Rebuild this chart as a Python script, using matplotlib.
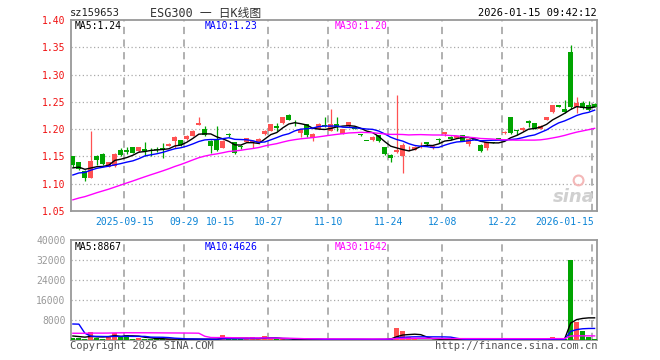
import numpy as np
import pandas as pd
import matplotlib
matplotlib.use('Agg')
import matplotlib.pyplot as plt
import matplotlib.transforms as mtransforms

plt.rcParams['font.family'] = ['DejaVu Sans Mono', 'Noto Sans CJK SC']

# daily bars 2025-09 .. 2026-01-15
opens = [1.150, 1.139, 1.123, 1.111, 1.151, 1.154, 1.131, 1.132, 1.162, 1.162, 1.167, 1.160,
         1.164, 1.164, 1.164, 1.166, 1.170, 1.179, 1.180, 1.182, 1.188, 1.208, 1.200, 1.178,
         1.180, 1.166, 1.191, 1.176, 1.169, 1.177, 1.176, 1.174, 1.191, 1.197, 1.206, 1.211,
         1.226, 1.210, 1.193, 1.209, 1.183, 1.201, 1.208, 1.197, 1.209, 1.192, 1.205, 1.204,
         1.191, 1.179, 1.180, 1.189, 1.167, 1.153, 1.158, 1.151, 1.165, 1.162, 1.174, 1.176,
         1.165, 1.182, 1.191, 1.186, 1.184, 1.189, 1.173, 1.182, 1.171, 1.165, 1.176, 1.183,
         1.193, 1.222, 1.198, 1.198, 1.215, 1.211, 1.201, 1.217, 1.232, 1.244, 1.236, 1.341,
         1.241, 1.248, 1.244, 1.246]
highs = [1.151, 1.140, 1.126, 1.197, 1.152, 1.156, 1.140, 1.156, 1.166, 1.168, 1.168, 1.168,
         1.176, 1.166, 1.168, 1.175, 1.174, 1.188, 1.181, 1.190, 1.198, 1.222, 1.206, 1.180,
         1.206, 1.180, 1.193, 1.177, 1.171, 1.184, 1.180, 1.183, 1.198, 1.210, 1.211, 1.223,
         1.227, 1.217, 1.201, 1.210, 1.193, 1.212, 1.223, 1.237, 1.222, 1.201, 1.214, 1.205,
         1.192, 1.179, 1.187, 1.190, 1.168, 1.154, 1.262, 1.175, 1.170, 1.169, 1.176, 1.177,
         1.170, 1.183, 1.195, 1.187, 1.188, 1.190, 1.183, 1.183, 1.172, 1.177, 1.177, 1.184,
         1.196, 1.223, 1.198, 1.204, 1.216, 1.212, 1.207, 1.223, 1.245, 1.245, 1.253, 1.354,
         1.258, 1.251, 1.252, 1.247]
lows = [1.131, 1.125, 1.105, 1.110, 1.134, 1.135, 1.130, 1.131, 1.150, 1.155, 1.156, 1.159,
        1.150, 1.150, 1.158, 1.148, 1.169, 1.166, 1.170, 1.181, 1.187, 1.207, 1.188, 1.157,
        1.160, 1.165, 1.185, 1.155, 1.163, 1.176, 1.165, 1.173, 1.189, 1.196, 1.197, 1.210,
        1.216, 1.205, 1.186, 1.186, 1.178, 1.200, 1.204, 1.196, 1.196, 1.191, 1.204, 1.200,
        1.188, 1.178, 1.179, 1.176, 1.153, 1.139, 1.157, 1.120, 1.160, 1.161, 1.165, 1.170,
        1.164, 1.175, 1.188, 1.181, 1.183, 1.178, 1.170, 1.180, 1.159, 1.162, 1.175, 1.182,
        1.191, 1.192, 1.190, 1.197, 1.204, 1.200, 1.200, 1.216, 1.230, 1.240, 1.230, 1.237,
        1.229, 1.236, 1.234, 1.240]
closes = [1.134, 1.127, 1.110, 1.142, 1.143, 1.136, 1.139, 1.154, 1.153, 1.158, 1.157, 1.167,
          1.160, 1.163, 1.162, 1.162, 1.173, 1.186, 1.171, 1.188, 1.197, 1.212, 1.189, 1.170,
          1.161, 1.179, 1.189, 1.157, 1.168, 1.183, 1.179, 1.182, 1.197, 1.209, 1.202, 1.222,
          1.217, 1.209, 1.200, 1.190, 1.192, 1.209, 1.206, 1.209, 1.204, 1.200, 1.213, 1.201,
          1.190, 1.178, 1.186, 1.178, 1.154, 1.148, 1.162, 1.171, 1.166, 1.168, 1.175, 1.172,
          1.169, 1.181, 1.194, 1.182, 1.187, 1.179, 1.182, 1.181, 1.160, 1.176, 1.175, 1.182,
          1.195, 1.193, 1.197, 1.203, 1.212, 1.201, 1.206, 1.222, 1.244, 1.241, 1.232, 1.241,
          1.248, 1.238, 1.235, 1.241]
volumes = [800, 900, 600, 3300, 700, 600, 1600, 2700, 1500, 2000, 500, 1000,
           500, 400, 300, 400, 300, 400, 300, 300, 400, 300, 300, 300, 400,
           2000, 500, 400, 400, 500, 1300, 400, 1600,
           300, 250, 300, 200, 250, 200, 300, 250, 200, 200, 300, 200, 250, 200, 200, 200,
           150, 200, 300, 250,
           1000, 4800, 3600, 1200, 1000,
           120, 180, 150, 150, 140, 160, 150, 150, 130, 170, 150, 150, 140, 160, 150, 150,
           150, 150, 140, 160,
           150, 150, 1200, 150, 275,
           32000, 7200, 3500, 1300, 335]

# bars before the window, only feed the moving averages
prior_closes = [1.030, 1.032, 1.035, 1.033, 1.038, 1.040, 1.042, 1.040, 1.045, 1.048,
                1.050, 1.047, 1.052, 1.055, 1.053, 1.058, 1.060, 1.062, 1.065, 1.070,
                1.090, 1.100, 1.100, 1.110, 1.115, 1.120, 1.130, 1.130, 1.131]
prior_volumes = [1200, 900, 700, 800, 1000, 600, 900, 700, 800, 1100,
                 900, 700, 600, 800, 1000, 900, 700, 800, 1000, 900,
                 1500, 37000, 15000, 1500, 1000, 2000, 1800, 1700, 1700]

tick_pos = [9, 19, 25, 33, 43, 53, 62, 72, 87]
tick_labels = ['2025-09-15', '09-29', '10-15', '10-27', '11-10', '11-24',
               '12-08', '12-22', '2026-01-15']
grid_pos = [9, 19, 33, 43, 53, 62, 72, 87]

RED = '#ff5252'
GREEN = '#00a400'
MA_COLORS = {5: '#000000', 10: '#0000ff', 30: '#ff00ff'}
GRID = '#aaaaaa'
FRAME = '#999999'

def moving_averages(prior, values):
    s = pd.Series(list(prior) + list(values), dtype=float)
    return {n: s.rolling(n).mean().iloc[len(prior):].to_numpy() for n in (5, 10, 30)}

x = np.arange(len(closes))
o, h, l, c = map(np.array, (opens, highs, lows, closes))
up = c >= o
colors = np.where(up, RED, GREEN)
price_ma = moving_averages(prior_closes, closes)
vol_ma = moving_averages(prior_volumes, volumes)

fig = plt.figure(figsize=(6.6, 3.6), dpi=100)
ax = fig.add_axes([70.5 / 660, 1 - 211 / 360, 526.5 / 660, 191 / 360])
axv = fig.add_axes([70.5 / 660, 1 - 340 / 360, 526.5 / 660, 100 / 360])


def frame(a):
    for sp in a.spines.values():
        sp.set_color(FRAME)
        sp.set_linewidth(1.3)
    a.tick_params(length=0, labelsize=7)
    a.set_xlim(-0.4, 87.4)
    a.set_xticks([])
    for p in grid_pos:
        a.axvline(p - 0.4, color=GRID, lw=1.3, ls=(0, (4, 3)), zorder=0)


# price panel
frame(ax)
ax.set_ylim(1.05, 1.40)
yt = np.round(np.arange(1.05, 1.401, 0.05), 2)
ax.set_yticks(yt)
ax.set_yticklabels([f'{v:.2f}' for v in yt], color='#f01010')
for v in yt[1:-1]:
    ax.axhline(v, color=GRID, lw=0.9, ls=(0, (1, 2)), zorder=0)

ax.vlines(x, l, h, colors=colors, lw=0.9, zorder=2)
body = np.maximum(np.abs(c - o), 0.0012)
ax.bar(x, body, bottom=np.minimum(o, c), width=0.8, color=colors, lw=0, zorder=3)
for n, col in MA_COLORS.items():
    ax.plot(x, price_ma[n], color=col, lw=1.0, zorder=4)

trans = mtransforms.blended_transform_factory(ax.transData, ax.transAxes)
for p, lab in zip(tick_pos, tick_labels):
    ha = 'right' if p == tick_pos[-1] else 'center'
    ax.text(p - 0.4 + (0.3 if ha == 'right' else 0), -0.055, lab, transform=trans,
            ha=ha, va='center', fontsize=7, color='#0b84d6')

ax.text(4.5 / 526.5, 0.967, f'MA5:{price_ma[5][-1]:.2f}', transform=ax.transAxes,
        fontsize=7, color=MA_COLORS[5], va='center')
ax.text(134.5 / 526.5, 0.967, f'MA10:{price_ma[10][-1]:.2f}', transform=ax.transAxes,
        fontsize=7, color=MA_COLORS[10], va='center')
ax.text(264.5 / 526.5, 0.967, f'MA30:{price_ma[30][-1]:.2f}', transform=ax.transAxes,
        fontsize=7, color=MA_COLORS[30], va='center')

# sina watermark
ax.text(0.955, 0.075, 'sina', transform=ax.transAxes, ha='center', va='center',
        fontsize=13, fontweight='bold', style='italic', color='#d0d0d0',
        family='DejaVu Sans', zorder=1)
ax.scatter([0.965], [0.16], s=50, transform=ax.transAxes, facecolor='none',
           edgecolor='#f4b8b8', linewidth=1.5, zorder=1)

# volume panel
frame(axv)
axv.set_ylim(0, 40000)
vt = np.arange(8000, 40001, 8000)
axv.set_yticks(vt)
axv.set_yticklabels([str(v) for v in vt], color='#999999')
for v in vt[:-1]:
    axv.axhline(v, color=GRID, lw=0.9, ls=(0, (1, 2)), zorder=0)
axv.bar(x, volumes, width=0.8, color=colors, lw=0, zorder=3)
for n, col in MA_COLORS.items():
    axv.plot(x, vol_ma[n], color=col, lw=1.0, zorder=4)

axv.text(4.5 / 526.5, 0.935, f'MA5:{vol_ma[5][-1]:.0f}', transform=axv.transAxes,
         fontsize=7, color=MA_COLORS[5], va='center')
axv.text(134.5 / 526.5, 0.935, f'MA10:{vol_ma[10][-1]:.0f}', transform=axv.transAxes,
         fontsize=7, color=MA_COLORS[10], va='center')
axv.text(264.5 / 526.5, 0.935, f'MA30:{vol_ma[30][-1]:.0f}', transform=axv.transAxes,
         fontsize=7, color=MA_COLORS[30], va='center')

# header / footer
fig.text(70 / 660, 1 - 13 / 360, 'sz159653', fontsize=7.5, color='#222222', va='center')
fig.text(206 / 660, 1 - 13 / 360, 'ESG300 一 日K线图', fontsize=8.5, color='#333333',
         ha='center', va='center')
fig.text(597 / 660, 1 - 13 / 360, '2026-01-15 09:42:12', fontsize=7.5, color='#000000',
         ha='right', va='center')
fig.text(70 / 660, 1 - 346 / 360, 'Copyright 2026 SINA.COM', fontsize=7.5,
         color='#555555', va='center')
fig.text(597 / 660, 1 - 346 / 360, 'http://finance.sina.com.cn', fontsize=7.5,
         color='#555555', ha='right', va='center')

fig.savefig('out.png', dpi=100, facecolor='white')
